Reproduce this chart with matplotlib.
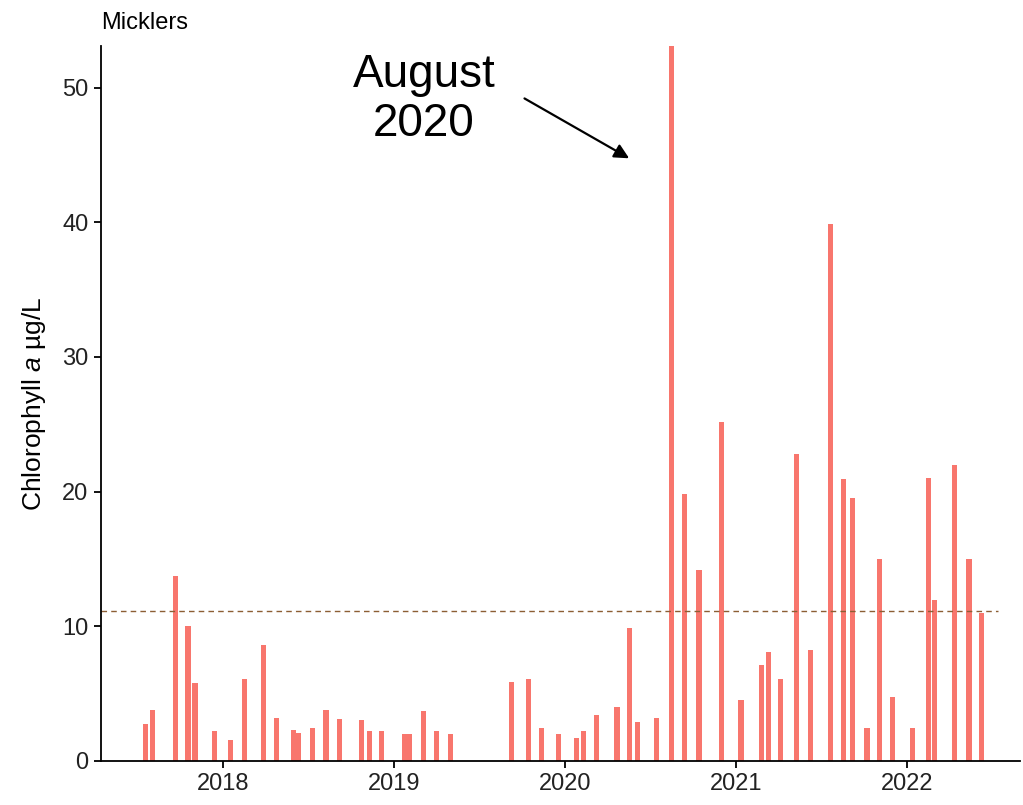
import numpy as np
import matplotlib
matplotlib.use("Agg")
import matplotlib.pyplot as plt
import matplotlib.dates as mdates
import pandas as pd

plt.rcParams['font.family'] = ['Liberation Sans', 'DejaVu Sans']
plt.rcParams['mathtext.fontset'] = 'custom'
plt.rcParams['mathtext.it'] = 'Liberation Sans:italic'
plt.rcParams['mathtext.rm'] = 'Liberation Sans'

# sample dates and chlorophyll a values
dates = [
    "2017-07-20", "2017-08-03", "2017-09-21", "2017-10-18", "2017-11-02",
    "2017-12-14", "2018-01-17", "2018-02-15", "2018-03-29", "2018-04-25",
    "2018-05-31", "2018-06-10", "2018-07-11", "2018-08-09", "2018-09-06",
    "2018-10-23", "2018-11-09", "2018-12-06", "2019-01-24", "2019-02-04",
    "2019-03-05", "2019-04-02", "2019-05-02", "2019-09-10", "2019-10-15",
    "2019-11-13", "2019-12-18", "2020-01-27", "2020-02-11", "2020-03-09",
    "2020-04-22", "2020-05-19", "2020-06-04", "2020-07-16", "2020-08-17",
    "2020-09-14", "2020-10-14", "2020-12-02", "2021-01-12", "2021-02-25",
    "2021-03-12", "2021-04-07", "2021-05-10", "2021-06-09", "2021-07-23",
    "2021-08-19", "2021-09-08", "2021-10-08", "2021-11-03", "2021-12-01",
    "2022-01-14", "2022-02-16", "2022-03-01", "2022-04-14", "2022-05-14",
    "2022-06-10",
]
chla = [
    2.75, 3.77, 13.7, 10.05, 5.77,
    2.25, 1.58, 6.07, 8.62, 3.22,
    2.33, 2.08, 2.45, 3.77, 3.12,
    3.02, 2.25, 2.25, 1.98, 1.98,
    3.69, 2.25, 1.98, 5.87, 6.07,
    2.45, 1.98, 1.68, 2.25, 3.39,
    3.99, 9.88, 2.92, 3.19, 60.0,
    19.84, 14.15, 25.2, 4.53, 7.13,
    8.07, 6.07, 22.83, 8.25, 39.9,
    20.93, 19.52, 2.48, 15.0, 4.75,
    2.48, 21.0, 11.96, 21.96, 15.0,
    11.02,
]
threshold = 11.14
years = ["2018", "2019", "2020", "2021", "2022"]

dates = pd.to_datetime(dates)

fig = plt.figure(figsize=(10.23, 8.05), dpi=100)
ax = fig.add_axes([0.0987, 0.0547, 0.8983, 0.8883])

ax.bar(dates, chla, width=11, color="#F8766D", edgecolor="none")

xmin = pd.Timestamp("2017-04-15")
xmax = pd.Timestamp("2022-08-31")
ax.plot([xmin, pd.Timestamp("2022-07-15")], [threshold, threshold],
        linestyle=(0, (4, 3)), color="#8c5e34", linewidth=1)

ax.set_xlim(xmin, xmax)
ax.set_ylim(0, 53.1)
ax.set_yticks([0, 10, 20, 30, 40, 50])
ax.set_xticks(pd.to_datetime([y + "-01-01" for y in years]))
ax.xaxis.set_major_formatter(mdates.DateFormatter("%Y"))

for s in ["top", "right"]:
    ax.spines[s].set_visible(False)
for s in ["left", "bottom"]:
    ax.spines[s].set_linewidth(1.3)
ax.tick_params(axis="both", labelsize=17, length=5, width=1.3, color="black",
               labelcolor="#222222")
ax.tick_params(axis="y", pad=4)

ax.set_ylabel(r"Chlorophyll $\mathit{a}$ µg/L", fontsize=19, labelpad=10)
ax.set_title("Micklers", loc="left", fontsize=17, pad=12)

ax.annotate("", xy=(pd.Timestamp("2020-05-23"), 44.65),
            xytext=(pd.Timestamp("2019-10-02"), 49.3),
            arrowprops=dict(arrowstyle="-|>", color="black", lw=1.6,
                            mutation_scale=22),
            annotation_clip=False)
ax.text(pd.Timestamp("2019-03-06"), 49.1, "August\n2020", fontsize=33,
        ha="center", va="center", linespacing=1.15, clip_on=False)

fig.savefig("out.png", dpi=100)
